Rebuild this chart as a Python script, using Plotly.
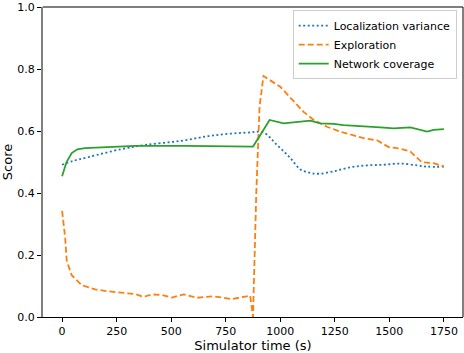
import plotly.graph_objects as go

# localization variance
loc_t = [0, 44, 121, 274, 381, 541, 694, 847, 923, 985, 1046, 1092, 1138, 1176, 1245, 1321, 1398, 1474, 1550, 1627, 1673, 1750]
loc_v = [0.492, 0.503, 0.517, 0.543, 0.556, 0.569, 0.587, 0.596, 0.596, 0.556, 0.514, 0.477, 0.466, 0.463, 0.471, 0.484, 0.490, 0.492, 0.496, 0.490, 0.486, 0.486]

# exploration
exp_t = [0, 14, 21, 44, 90, 151, 213, 274, 335, 373, 411, 457, 503, 557, 617, 694, 778, 847, 862, 875, 890, 905, 923,
         1000, 1061, 1107, 1153, 1214, 1275, 1321, 1382, 1444, 1497, 1535, 1596, 1619, 1650, 1703, 1750]
exp_v = [0.343, 0.257, 0.183, 0.135, 0.103, 0.089, 0.083, 0.079, 0.074, 0.065, 0.073, 0.071, 0.063, 0.073, 0.062, 0.067, 0.058, 0.067, 0.069, 0.0, 0.40, 0.68, 0.779,
         0.744, 0.696, 0.663, 0.637, 0.615, 0.599, 0.591, 0.578, 0.571, 0.549, 0.546, 0.535, 0.519, 0.500, 0.497, 0.487]

# network coverage
net_t = [0, 20, 44, 70, 105, 200, 335, 564, 760, 875, 910, 951, 1015, 1077, 1138, 1183, 1245, 1290, 1398, 1459, 1520, 1596, 1673, 1703, 1750]
net_v = [0.455, 0.50, 0.53, 0.542, 0.546, 0.548, 0.553, 0.553, 0.552, 0.551, 0.59, 0.637, 0.626, 0.630, 0.635, 0.626, 0.624, 0.620, 0.617, 0.613, 0.610, 0.613, 0.599, 0.605, 0.607]

fig = go.Figure()
fig.add_trace(go.Scatter(x=loc_t, y=loc_v, mode="lines", name="Localization variance",
                         line=dict(color="#1f77b4", width=1.8, dash="2px,2.5px"), line_shape="spline"))
fig.add_trace(go.Scatter(x=exp_t, y=exp_v, mode="lines", name="Exploration",
                         line=dict(color="#ff7f0e", width=1.8, dash="6px,3px")))
fig.add_trace(go.Scatter(x=net_t, y=net_v, mode="lines", name="Network coverage",
                         line=dict(color="#2ca02c", width=1.8)))

fig.update_layout(
    width=464, height=353,
    margin=dict(l=43, r=1, t=7, b=36),
    paper_bgcolor="white", plot_bgcolor="white",
    font=dict(family="DejaVu Sans", size=11, color="black"),
    showlegend=True,
    legend=dict(x=0.985, y=0.99, xanchor="right", yanchor="top",
                bgcolor="rgba(255,255,255,0.8)", bordercolor="#cccccc", borderwidth=1,
                font=dict(size=11), tracegroupgap=0),
)
fig.update_xaxes(range=[-87.5, 1837.5], tickvals=[0, 250, 500, 750, 1000, 1250, 1500, 1750],
                 showgrid=False, zeroline=False, showline=True, linecolor="black", linewidth=1,
                 ticks="outside", ticklen=4, tickcolor="black",
                 title=dict(text="Simulator time (s)", standoff=4))
fig.update_yaxes(range=[0, 1.002], tickvals=[0, 0.2, 0.4, 0.6, 0.8, 1.0], tickformat=".1f",
                 showgrid=False, zeroline=False, showline=True, linecolor="#808080", linewidth=2,
                 ticks="outside", ticklen=4, tickcolor="black",
                 title=dict(text="Score", standoff=6))
# top and right spines
fig.add_shape(type="line", xref="paper", yref="paper", x0=0, x1=1, y0=1, y1=1,
              line=dict(color="black", width=1))
fig.add_shape(type="line", xref="paper", yref="paper", x0=1, x1=1, y0=0, y1=1,
              line=dict(color="black", width=1))

fig.write_html("out.html", config={"displayModeBar": False},
               post_script="document.body.style.margin='0';")
